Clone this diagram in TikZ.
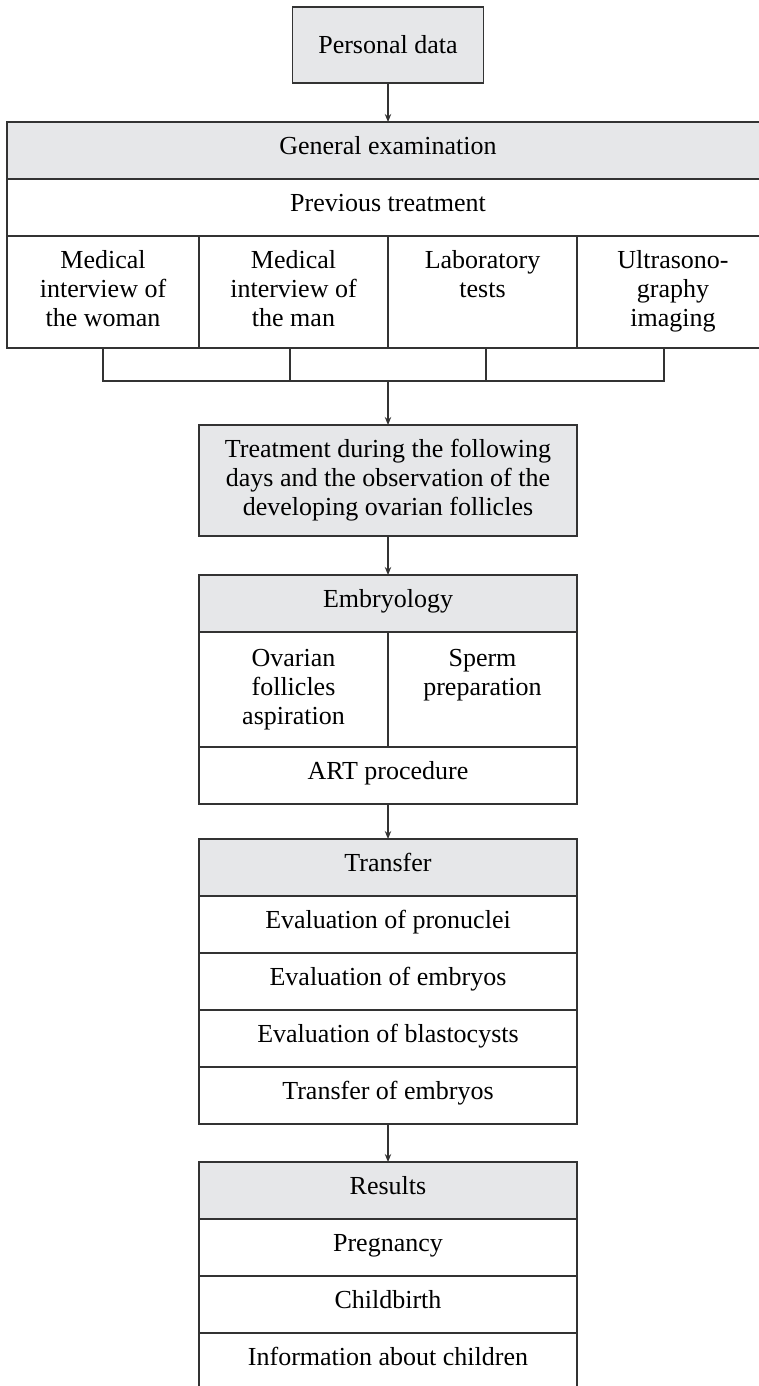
\documentclass[tikz,border=0pt]{standalone}
\usepackage{fontspec}
\setmainfont{Liberation Serif}
\usetikzlibrary{arrows.meta, positioning}
\definecolor{boxgray}{HTML}{E6E7E9}
\definecolor{linegray}{HTML}{333333}

\begin{document}
\begin{tikzpicture}[
        x=0.5pt, y=-0.5pt,
        node distance=19.5pt,
        cell/.style={rectangle, draw=linegray, line width=0.8pt, outer sep=0pt, inner sep=0pt, align=center, font=\fontsize{13}{14.5}\selectfont},
        head/.style={cell, fill=boxgray, minimum height=28.5pt, text height=9pt, text depth=5pt},
        row/.style={cell, minimum height=28.5pt, text height=9pt, text depth=5pt},
        arrow/.style={-{Stealth[length=4pt, width=3.2pt]}, draw=linegray, line width=0.6pt},
        link/.style={draw=linegray, line width=0.7pt}
    ]
        \useasboundingbox (0,0) rectangle (759,1386);
        \clip (0,0) rectangle (759,1386);

        % Nodes
        \node (pd) [cell, fill=boxgray, minimum width=95.5pt, minimum height=38pt] at (388,45) {Personal data};
        \node (ge) [head, minimum width=381pt, below=of pd] {General examination};
        \node (prev) [row, minimum width=381pt, below=0pt of ge] {Previous treatment};
        \node (col1) [cell, minimum width=96pt, minimum height=56pt, below right=0pt of prev.south west] {\strut Medical\\interview of\\the woman\strut};
        \node (col2) [cell, minimum width=94.5pt, minimum height=56pt, right=0pt of col1] {\strut Medical\\interview of\\the man\strut};
        \node (col3) [cell, minimum width=94.5pt, minimum height=56pt, right=0pt of col2] {\strut Laboratory\\tests\\\strut};
        \node (col4) [cell, minimum width=96pt, minimum height=56pt, right=0pt of col3] {\strut Ultrasono-\\graphy\\imaging\strut};
        \coordinate [below=16.5pt of col2.south east] (hub);

        \node (treat) [cell, fill=boxgray, minimum width=189pt, minimum height=55.5pt, below=38.5pt of col2.south east] {Treatment during the following\\days and the observation of the\\developing ovarian follicles};

        \node (emb) [head, minimum width=189pt, below=of treat] {Embryology};
        \node (ovar) [cell, minimum width=94.5pt, minimum height=57.5pt, below right=0pt of emb.south west] {\strut Ovarian\\follicles\\aspiration\strut};
        \node (sperm) [cell, minimum width=94.5pt, minimum height=57.5pt, right=0pt of ovar] {\strut Sperm\\preparation\\\strut};
        \node (art) [row, minimum width=189pt, below=0pt of ovar.south east] {ART procedure};

        \node (trans) [head, minimum width=189pt, below=17.5pt of art] {Transfer};
        \node (evpro) [row, minimum width=189pt, below=0pt of trans] {Evaluation of pronuclei};
        \node (evemb) [row, minimum width=189pt, below=0pt of evpro] {Evaluation of embryos};
        \node (evbla) [row, minimum width=189pt, below=0pt of evemb] {Evaluation of blastocysts};
        \node (trfemb) [row, minimum width=189pt, below=0pt of evbla] {Transfer of embryos};

        \node (res) [head, minimum width=189pt, below=19pt of trfemb] {Results};
        \node (preg) [row, minimum width=189pt, below=0pt of res] {Pregnancy};
        \node (child) [row, minimum width=189pt, below=0pt of preg] {Childbirth};
        \node (info) [row, minimum width=189pt, below=0pt of child] {Information about children};

        % Connectors
        \draw [arrow] (pd) -- (ge);
        \draw [link] (col1.south) |- (hub) -| ([xshift=-4.5pt]col4.south);
        \draw [link] ([xshift=-1.75pt]col2.south) -- ([xshift=-1.75pt]col2.south |- hub);
        \draw [link] ([xshift=1.75pt]col3.south) -- ([xshift=1.75pt]col3.south |- hub);
        \draw [arrow] (hub) -- (treat);
        \draw [arrow] (treat) -- (emb);
        \draw [arrow] (art) -- (trans);
        \draw [arrow] (trfemb) -- (res);
    \end{tikzpicture}
\end{document}
